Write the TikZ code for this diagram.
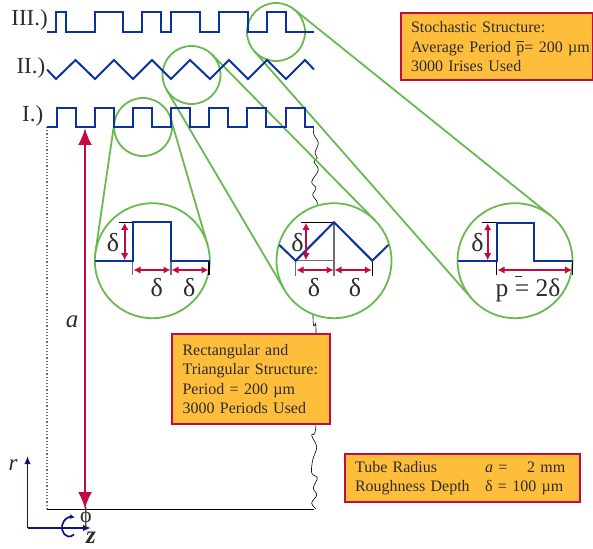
\documentclass[tikz,border=0pt]{standalone}
\usepackage{fontspec}
\setmainfont{Liberation Serif}
\usetikzlibrary{arrows.meta}
\definecolor{wave}{RGB}{10,50,160}
\definecolor{lens}{RGB}{105,185,80}
\definecolor{crim}{RGB}{195,10,65}
\definecolor{boxfill}{RGB}{254,190,60}
\definecolor{axisblue}{RGB}{10,20,120}
\definecolor{tick}{RGB}{110,110,110}
\definecolor{ink}{RGB}{45,45,45}
\tikzset{
  wavy/.style={draw=wave,line width=2pt,line join=miter},
  smallc/.style={circle,draw=lens,line width=1.8pt,minimum size=58pt,inner sep=0pt,outer sep=0pt},
  bigc/.style={circle,draw=lens,line width=1.8pt,fill=white,minimum size=115pt,inner sep=0pt,outer sep=0pt},
  tang/.style={draw=lens,line width=1.8pt},
  redarr/.style={draw=crim,line width=1.6pt,{Latex[length=7pt,width=7.5pt]}-{Latex[length=7pt,width=7.5pt]}},
  ticks/.style={draw=tick,line width=1.1pt},
  blackt/.style={draw=black,line width=1.1pt},
  infobox/.style={draw=crim,line width=2.1pt,fill=boxfill,inner sep=0pt,anchor=north west,text=ink,font=\fontsize{16}{19.5}\selectfont},
  romlab/.style={font=\fontsize{23}{23}\selectfont,text=ink,inner sep=0pt},
  dlab/.style={font=\fontsize{26}{26}\selectfont,text=ink,inner sep=0pt},
  wig/.style={draw=black,line width=0.6pt}
}
\begin{document}
\begin{tikzpicture}[x=1pt,y=-1pt]
\useasboundingbox (0,0) rectangle (593,548);
% outline
\draw[tick,dotted,line width=1.2pt] (47,127) -- (47,509);
\draw[black,line width=0.8pt] (47,509) -- (314,509);
\draw[wig] plot[smooth,tension=0.6] coordinates {(313.3,126.7) (314,135) (318.3,143) (315,153) (317.3,158) (314,161.7) (318.3,170) (311.7,181.7) (316,188) (312.7,195) (317.3,203) (314,215) (313,230) (313,317) (315,325) (316,333) (316,424) (311.7,435) (316.7,446.7) (312.7,460) (311.7,473) (317.3,478) (313.3,488) (316.7,495) (311.7,503) (316,509)};
% small circles
\node[smallc] (s1) at (143,127) {};
\node[smallc] (s2) at (191.5,75) {};
\node[smallc] (s3) at (276,32) {};
% tangents
\node[bigc] (b1) at (152.3,260.7) {};
\node[bigc] (b2) at (334,260.7) {};
\node[bigc] (b3) at (515,260.7) {};
\draw[tang] (s1.16.3) -- (b1.16.3);
\draw[tang] (s1.171.7) -- (b1.171.7);
\draw[tang] (s2.44.5) -- (b2.44.5);
\draw[tang] (s2.210.5) -- (b2.210.5);
\draw[tang] (s3.51.2) -- (b3.51.2);
\draw[tang] (s3.221.3) -- (b3.221.3);
% waves
\draw[wavy] (47,32) -- (56,32) -- (56,12) -- (66,12) -- (66,32) -- (95,32) -- (95,12) -- (123,12) -- (123,32) -- (142,32) -- (142,12) -- (161,12) -- (161,32) -- (171,32) -- (171,12) -- (200,12) -- (200,32) -- (219,32) -- (219,12) -- (248,12) -- (248,32) -- (267,32) -- (267,12) -- (286,12) -- (286,32) -- (314,32);
\draw[wavy] (47,69.5) -- (56,79) -- (75.5,60) -- (95,79) -- (114,60) -- (133,79) -- (152,60) -- (171,79) -- (190,60) -- (210,79) -- (229,60) -- (248,79) -- (267,60) -- (286,79) -- (305,60) -- (314,69.5);
\draw[wavy] (47,127) -- (56.5,127) -- (56.5,108) -- (76,108) -- (76,127) -- (95,127) -- (95,108) -- (114,108) -- (114,127) -- (133,127) -- (133,108) -- (152,108) -- (152,127) -- (171,127) -- (171,108) -- (190,108) -- (190,127) -- (209,127) -- (209,108) -- (228,108) -- (228,127) -- (247,127) -- (247,108) -- (266,108) -- (266,127) -- (286,127) -- (286,108) -- (305,108) -- (305,127) -- (314,127);
% big rectangle 1
\draw[blackt] (119.3,222.3) -- (132.7,222.3);
\draw[ticks] (132.7,260.7) -- (132.7,274.5);
\draw[ticks] (171,260.7) -- (171,274.5);
\draw[blackt] (209,260.7) -- (209,274.5);
\draw[wavy] (94.8,260.7) -- (132.7,260.7) -- (132.7,222.3) -- (171,222.3) -- (171,260.7) -- (209.5,260.7);
\draw[redarr] (124.7,222.8) -- (124.7,260.2);
\draw[redarr] (133.5,270) -- (170.5,270);
\draw[redarr] (171.5,270) -- (208.5,270);
\node[dlab] (d1) at (113,243) {δ};
\node[dlab] (d2) at (156.7,287.5) {δ};
\node[dlab] (d3) at (189.3,287.5) {δ};
% big triangle
\draw[blackt] (300.7,222.3) -- (334,222.3);
\draw[ticks] (334,222.3) -- (334,275.7);
\draw[ticks] (295.7,260.7) -- (334,260.7);
\draw[ticks] (295.7,260.7) -- (295.7,275.7);
\draw[blackt] (372.3,260.7) -- (372.3,275.7);
\draw[wavy] (279.3,245) -- (295.7,260.7) -- (334,222.3) -- (372.3,260.7) -- (388.3,245);
\node[dlab] (d4) at (297.5,243) {δ};
\draw[redarr] (306,222.8) -- (306,260.2);
\draw[redarr] (296.5,270) -- (333.5,270);
\draw[redarr] (334.5,270) -- (371.8,270);
\node[dlab] (d5) at (314,287.5) {δ};
\node[dlab] (d6) at (355,287.5) {δ};
% big rectangle 3
\draw[blackt] (482.3,222.7) -- (496.7,222.7);
\draw[blackt] (496.7,260.7) -- (496.7,275);
\draw[blackt] (572.7,260.7) -- (572.7,275);
\draw[wavy] (457.7,260.7) -- (496.7,260.7) -- (496.7,222.7) -- (534.3,222.7) -- (534.3,260.7) -- (572.7,260.7);
\draw[redarr] (487.7,223.2) -- (487.7,260.2);
\draw[redarr] (497.5,270) -- (572.2,270);
\node[dlab] (d7) at (477.5,243) {δ};
\node[dlab,font=\fontsize{25.5}{25.5}\selectfont] (d8) at (528,290) {p = 2δ};
\draw[ink,line width=1pt] (515,276) -- (522,276);
% main arrow
\draw[crim,line width=2.5pt,{Latex[length=17pt,width=14pt]}-{Latex[length=17pt,width=14pt]}] (85,128) -- (85,509);
\node[font=\itshape\fontsize{25}{25}\selectfont,text=ink,inner sep=0pt] (alab) at (72,322) {a};
% series labels
\node[romlab,anchor=east] (l3) at (48,20) {III.)};
\node[romlab,anchor=east] (l2) at (45.5,68) {II.)};
\node[romlab,anchor=east] (l1) at (43.5,116) {I.)};
% axes
\coordinate (o) at (27.5,528);
\coordinate (rt) at (27.5,456);
\coordinate (zt) at (91,528);
\draw[axisblue,line width=1.6pt,-{Latex[length=8pt,width=6.5pt]}] (o) -- (rt);
\draw[axisblue,line width=1.6pt,-{Latex[length=8pt,width=6.5pt]}] (o) -- (zt);
\draw[axisblue,line width=1.7pt,-{Latex[length=5pt,width=5pt]}] (68,536.5) .. controls (62,535) and (60,526) .. (64,521) .. controls (66,518) and (70,516.5) .. (75,517.5);
\draw[axisblue,line width=1.7pt] (68,536.5) .. controls (70,537) and (72,536) .. (74,534.5);
\node[font=\itshape\fontsize{23}{23}\selectfont,text=ink,inner sep=0pt] (rlab) at (13,465) {r};
\node[font=\fontsize{22}{22}\selectfont,text=ink,inner sep=0pt] (phi) at (86,517.5) {ϕ};
\node[font=\bfseries\itshape\fontsize{25}{25}\selectfont,text=ink,inner sep=0pt] (zlab) at (91,538) {z};
% info boxes
\node[infobox,minimum width=192pt,minimum height=67pt,text width=172pt,align=left] (bs) at (400,12) {Stochastic Structure:\\\mbox{Average Period \rlap{\raisebox{0.62em}{\rule{0.5em}{0.05em}}}p= 200 µm}\\3000 Irises Used};
\node[infobox,minimum width=158.6pt,minimum height=90.6pt,text width=137pt,align=left] (br) at (170.7,332.7) {Rectangular and\\Triangular Structure:\\Period = 200 µm\\3000 Periods Used};
\node[infobox,minimum width=235pt,minimum height=47.7pt,text width=215pt,align=left] (bt) at (344,453.3) {\makebox[130pt][l]{Tube Radius}\makebox[42pt][l]{\itshape a\upshape\ =}2 mm\\\makebox[130pt][l]{Roughness Depth}δ = 100 µm};
\end{tikzpicture}
\end{document}
